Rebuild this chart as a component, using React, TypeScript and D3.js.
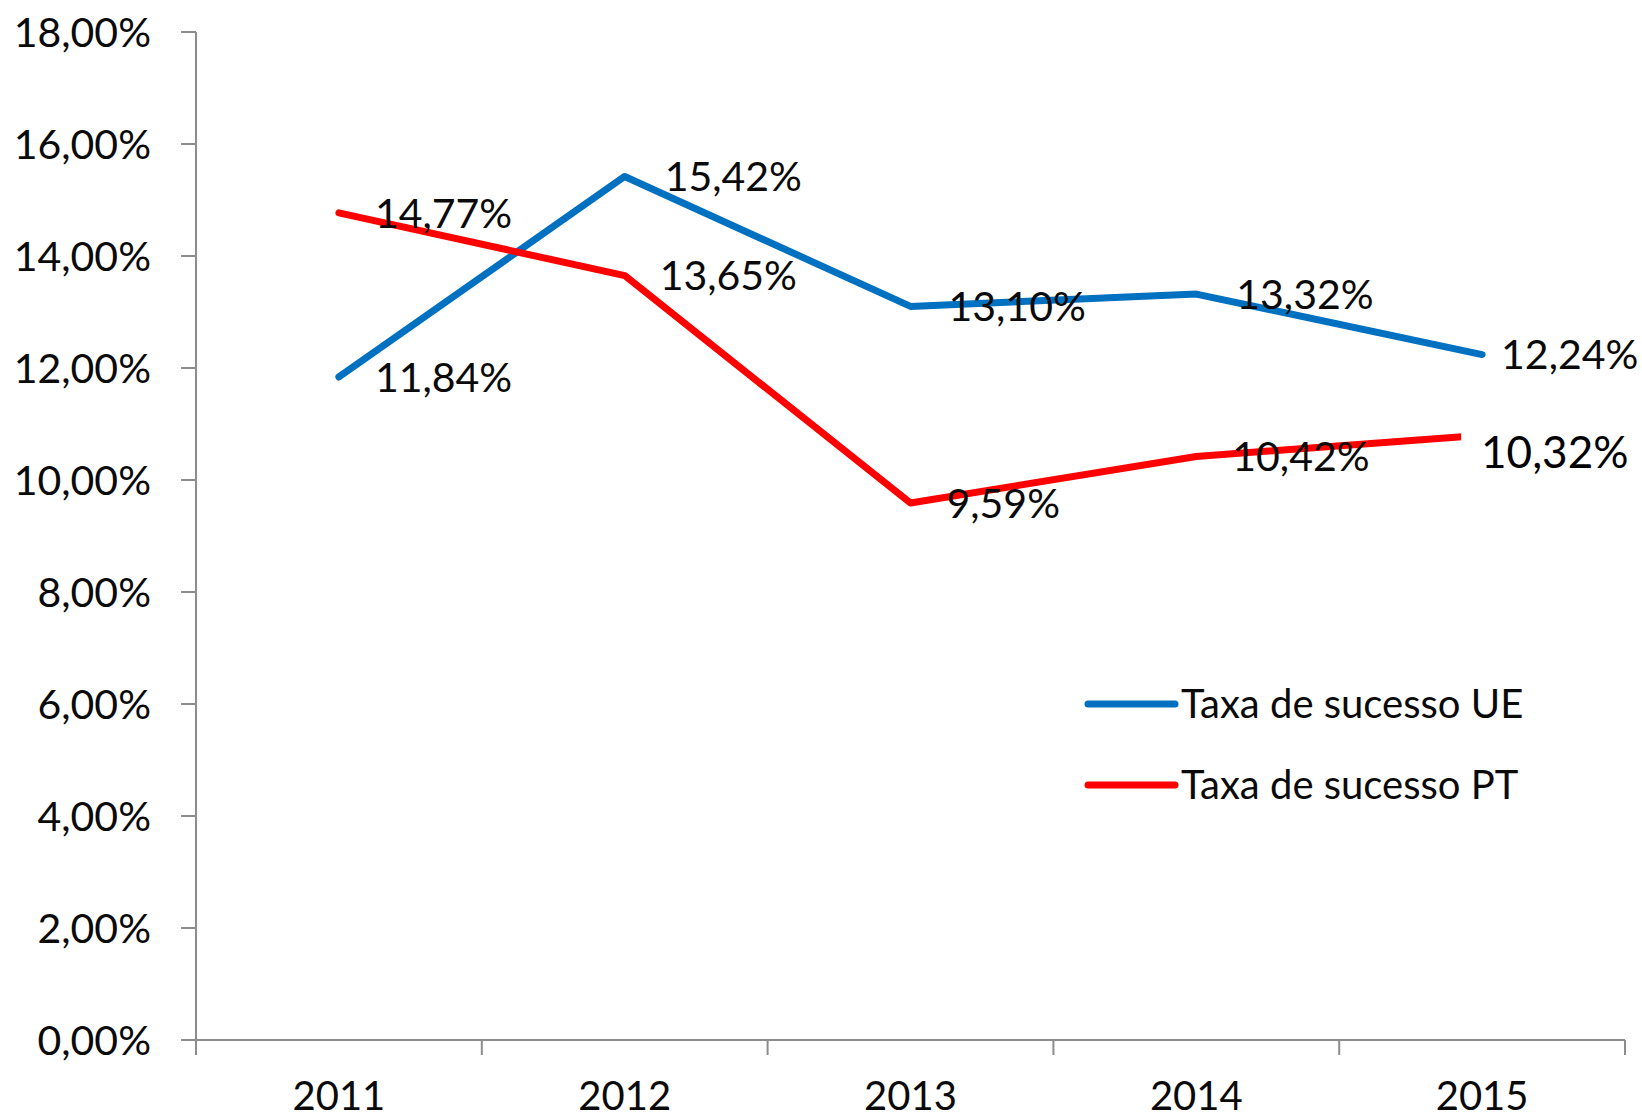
import React from "react";
import * as d3 from "d3";

const years = ["2011", "2012", "2013", "2014", "2015"];
const ueValues = [11.84, 15.42, 13.1, 13.32, 12.24];
const ptValues = [14.77, 13.65, 9.59, 10.42, 10.8];
const ueLabels = ["11,84%", "15,42%", "13,10%", "13,32%", "12,24%"];
const ptLabels = ["14,77%", "13,65%", "9,59%", "10,42%", "10,32%"];
const yTicks = [0, 2, 4, 6, 8, 10, 12, 14, 16, 18];
const seriesNames = ["Taxa de sucesso UE", "Taxa de sucesso PT"];
const seriesColors = ["#0070C0", "#FF0000"];

// label horizontal offsets (px) from the point, per series
const ueDx = [36, 40, 38, 40, 19];
const ptDx = [36, 35, 36, 36, 0];

const W = 1642;
const H = 1118;
const FONT = "Lato, 'Open Sans', sans-serif";

export default function App() {
  const x = d3.scaleBand().domain(years).range([196, 1625]).paddingInner(0).paddingOuter(0);
  const y = d3.scaleLinear().domain([0, 18]).range([1040, 32]);
  const cx = (d: string) => (x(d) as number) + x.bandwidth() / 2;
  const line = d3
    .line<number>()
    .x((_, i) => cx(years[i]))
    .y((v) => y(v));

  const bandEdges = years.map((d) => x(d) as number).concat([1625]);
  const series = [
    { values: ueValues, labels: ueLabels, dx: ueDx, color: seriesColors[0] },
    { values: ptValues, labels: ptLabels, dx: ptDx, color: seriesColors[1] },
  ];
  const labelFs = 41;
  const tickFs = 41;

  const lastPtX = cx(years[4]);
  const lastPtY = y(ptValues[4]);

  return (
    <svg
      width={W}
      height={H}
      style={{ position: "absolute", left: 0, top: 0, background: "#fff" }}
      fontFamily={FONT}
    >
      <rect x={0} y={0} width={W} height={H} fill="#fff" />
      {/* y axis */}
      <line x1={196} x2={196} y1={y(18)} y2={y(0)} stroke="#8c8c8c" strokeWidth={2} />
      {yTicks.map((t) => (
        <g key={t}>
          <line x1={181} x2={196} y1={y(t)} y2={y(t)} stroke="#8c8c8c" strokeWidth={2} />
          <text
            x={151}
            y={y(t) + tickFs * 0.36}
            textAnchor="end"
            fontSize={tickFs}
            fill="#0a0a0a"
          >
            {t.toFixed(2).replace(".", ",") + "%"}
          </text>
        </g>
      ))}
      {/* x axis */}
      <line x1={196} x2={1625} y1={y(0)} y2={y(0)} stroke="#8c8c8c" strokeWidth={2} />
      {bandEdges.map((e, i) => (
        <line key={i} x1={e} x2={e} y1={y(0)} y2={y(0) + 15} stroke="#8c8c8c" strokeWidth={2} />
      ))}
      {years.map((d) => (
        <text key={d} x={cx(d)} y={1110} textAnchor="middle" fontSize={40} fill="#0a0a0a">
          {d}
        </text>
      ))}
      {/* lines */}
      {series.map((s, k) => (
        <path
          key={k}
          d={line(s.values) as string}
          fill="none"
          stroke={s.color}
          strokeWidth={7}
          strokeLinejoin="round"
          strokeLinecap="round"
        />
      ))}
      {/* data labels */}
      {series.map((s, k) =>
        s.values.map((v, i) => {
          if (k === 1 && i === 4) return null;
          return (
            <text
              key={k + "-" + i}
              x={cx(years[i]) + s.dx[i]}
              y={y(v) + labelFs * 0.36}
              fontSize={labelFs}
              fill="#0a0a0a"
            >
              {s.labels[i]}
            </text>
          );
        })
      )}
      {/* overlaid label box for last PT value */}
      <rect x={lastPtX - 21} y={lastPtY - 20} width={180} height={60} fill="#fff" />
      <text x={lastPtX - 1} y={lastPtY + 33} fontSize={44} fill="#000">
        {ptLabels[4]}
      </text>
      {/* legend */}
      {seriesNames.map((n, i) => {
        const ly = 704 + i * 81;
        return (
          <g key={n}>
            <line x1={1088} x2={1175} y1={ly} y2={ly} stroke={seriesColors[i]} strokeWidth={7} strokeLinecap="round" />
            <text x={1181} y={ly + 14} fontSize={40} fill="#0a0a0a">
              {n}
            </text>
          </g>
        );
      })}
    </svg>
  );
}
